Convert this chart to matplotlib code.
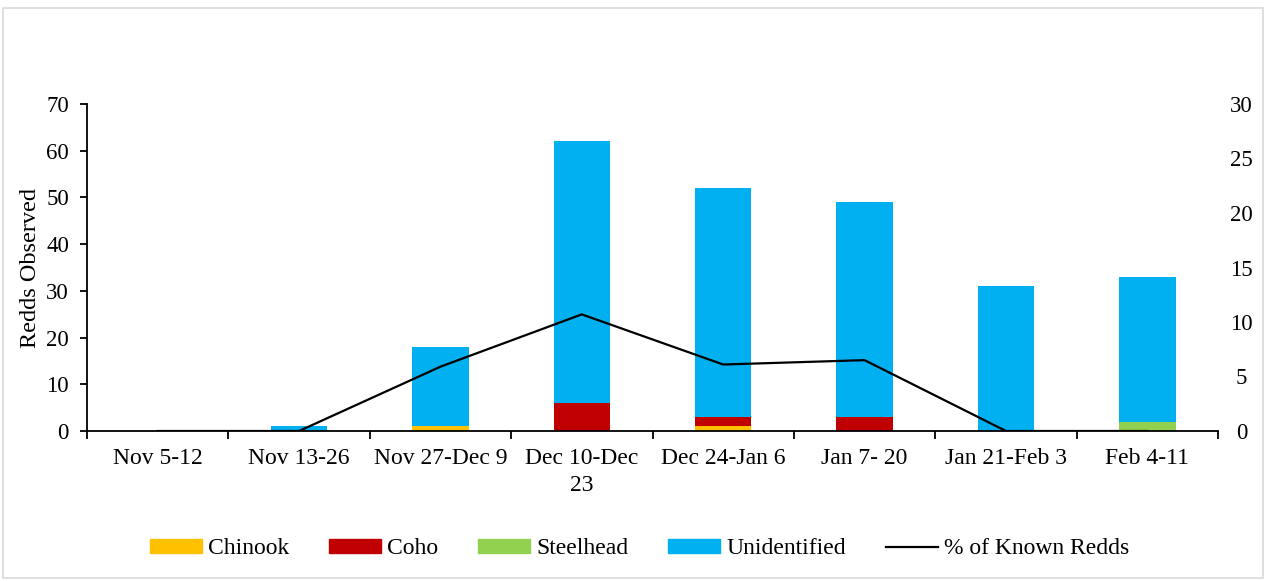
import numpy as np
import matplotlib.pyplot as plt
from matplotlib.patches import Rectangle

plt.rcParams['font.family'] = ['Liberation Serif', 'DejaVu Serif']

periods = ["Nov 5-12", "Nov 13-26", "Nov 27-Dec 9", "Dec 10-Dec\n23",
           "Dec 24-Jan 6", "Jan 7- 20", "Jan 21-Feb 3", "Feb 4-11"]
chinook = [0, 0, 1, 0, 1, 0, 0, 0]
coho = [0, 0, 0, 6, 2, 3, 0, 0]
steelhead = [0, 0, 0, 0, 0, 0, 0, 2]
unidentified = [0, 1, 17, 56, 49, 46, 31, 31]
pct_known = [0, 0, 5.9, 10.7, 6.1, 6.5, 0, 0]

fig = plt.figure(figsize=(12.66, 5.81), dpi=100)
ax = fig.add_axes([87 / 1266, 1 - 431 / 581, (1218 - 87) / 1266, (431 - 104) / 581])

x = np.arange(len(periods))
w = 0.4
bottom = np.zeros(len(periods))
series = [(chinook, "#FFC000", "Chinook"), (coho, "#C00000", "Coho"),
          (steelhead, "#92D050", "Steelhead"), (unidentified, "#00B0F0", "Unidentified")]
handles = []
for vals, col, name in series:
    ax.bar(x, vals, w, bottom=bottom, color=col, zorder=2)
    bottom += np.array(vals)
    handles.append(Rectangle((0, 0), 1, 1, color=col, label=name))

ax.set_xlim(-0.5, len(periods) - 0.5)
ax.set_ylim(0, 70)
ax.set_yticks(range(0, 71, 10))
ax.set_xticks(x)
ax.set_xticklabels(periods, fontsize=17, linespacing=1.39)
ax.tick_params(axis='x', length=0, pad=12)
ax.set_xticks(np.arange(-0.5, len(periods)), minor=True)
ax.tick_params(axis='x', which='minor', length=6, width=1.3, direction='out')
ax.tick_params(axis='y', labelsize=16.5, length=5, width=1.3, pad=8)
ax.set_ylabel("Redds Observed", fontsize=17.5, labelpad=4)
for s in ['top', 'right']:
    ax.spines[s].set_visible(False)
for s in ['left', 'bottom']:
    ax.spines[s].set_linewidth(1.3)

ax2 = ax.twinx()
ax2.plot(x, pct_known, color='black', lw=1.6, zorder=3)
ax2.set_ylim(0, 30)
ax2.set_yticks(range(0, 31, 5))
ax2.tick_params(axis='y', labelsize=16.5, length=0, pad=17)
for lbl in ax2.get_yticklabels():
    lbl.set_horizontalalignment('center')
for s in ['top', 'left', 'bottom', 'right']:
    ax2.spines[s].set_visible(False)

line_handle = plt.Line2D([], [], color='black', lw=1.6, label="% of Known Redds")
fig.legend(handles=handles + [line_handle], loc='center', bbox_to_anchor=(0.505, 1 - 549 / 581),
           ncol=5, frameon=False, fontsize=17, handlelength=2.2, handleheight=0.5,
           columnspacing=1.7, handletextpad=0.25)

fig.patches.append(Rectangle((3 / 1266, 3 / 581), 1260 / 1266, 570 / 581,
                             transform=fig.transFigure, fill=False, edgecolor='#D9D9D9', lw=1.2))

fig.savefig("out.png", dpi=100)
